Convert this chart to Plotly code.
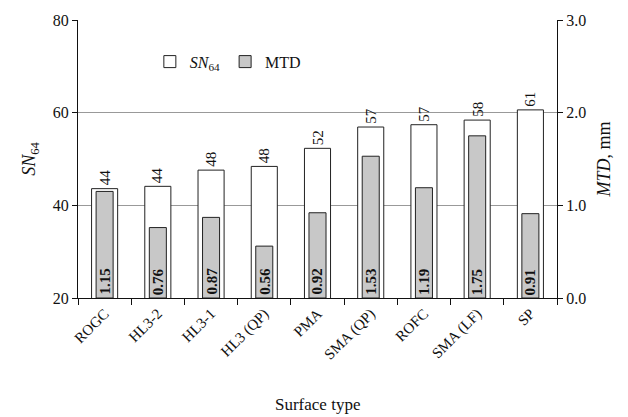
import plotly.graph_objects as go

categories = ["ROGC", "HL3-2", "HL3-1", "HL3 (QP)", "PMA", "SMA (QP)", "ROFC", "SMA (LF)", "SP"]
sn64 = [43.6, 44.1, 47.6, 48.4, 52.3, 56.9, 57.4, 58.4, 60.6]
sn64_labels = ["44", "44", "48", "48", "52", "57", "57", "58", "61"]
mtd = [1.15, 0.76, 0.87, 0.56, 0.92, 1.53, 1.19, 1.75, 0.91]
mtd_labels = ["1.15", "0.76", "0.87", "0.56", "0.92", "1.53", "1.19", "1.75", "0.91"]

FONT = "Liberation Serif"

fig = go.Figure()
fig.add_trace(go.Bar(
    x=categories, y=sn64, name="<i>SN</i><sub>64</sub>",
    width=0.49, marker=dict(color="white", line=dict(color="#222", width=1)),
    yaxis="y",
))
fig.add_trace(go.Bar(
    x=categories, y=mtd, name="MTD",
    width=0.32, marker=dict(color="#c8c8c8", line=dict(color="#222", width=1)),
    yaxis="y2",
))

for c, v, t in zip(categories, sn64, sn64_labels):
    fig.add_annotation(x=c, y=v, xref="x", yref="y", text=t, textangle=-90,
                       showarrow=False, yanchor="bottom", yshift=1,
                       font=dict(family=FONT, size=15, color="#111"))
for c, t in zip(categories, mtd_labels):
    fig.add_annotation(x=c, y=0, xref="x", yref="y2", text="<b>%s</b>" % t, textangle=-90,
                       showarrow=False, yanchor="bottom", yshift=1,
                       font=dict(family=FONT, size=15, color="#111"))

# x-axis title as a paper-anchored annotation
fig.add_annotation(x=0.5, y=-0.382, xref="paper", yref="paper", text="Surface type",
                   showarrow=False, xanchor="center", yanchor="middle",
                   font=dict(family=FONT, size=17, color="#111"))

fig.update_layout(
    width=628, height=417,
    margin=dict(l=78, r=71, t=18, b=119),
    paper_bgcolor="white", plot_bgcolor="white",
    barmode="overlay",
    font=dict(family=FONT, size=16, color="#111"),
    showlegend=True,
    legend=dict(orientation="h", x=0.15, y=0.85, xanchor="left", yanchor="middle",
                bgcolor="rgba(0,0,0,0)", font=dict(family=FONT, size=16),
                itemwidth=30, tracegroupgap=0),
    xaxis=dict(
        tickangle=-45, ticks="outside", tickson="boundaries", ticklen=6,
        tickcolor="#111", showline=True, linecolor="#111", linewidth=1,
        tickfont=dict(family=FONT, size=15), showgrid=False,
    ),
    yaxis=dict(
        title=dict(text="<i>SN</i><sub>64</sub>", font=dict(family=FONT, size=18), standoff=12),
        range=[20, 80], dtick=20, ticks="outside", ticklen=5, tickcolor="#111",
        showline=True, linecolor="#111", linewidth=1,
        showgrid=True, gridcolor="#999", gridwidth=1, zeroline=False,
        tickfont=dict(family=FONT, size=16),
    ),
    yaxis2=dict(
        title=dict(text="<i>MTD</i>, mm", font=dict(family=FONT, size=18), standoff=12),
        range=[0, 3], dtick=1, tickformat=".1f", overlaying="y", side="right",
        ticks="outside", ticklen=5, tickcolor="#111",
        showline=True, linecolor="#111", linewidth=1,
        showgrid=False, zeroline=False,
        tickfont=dict(family=FONT, size=16),
    ),
)

# Flatten each rotated text's transform chain into one rotate(a, cx, cy) on the text node;
# re-applied on afterplot and for a short while, in case plotly repositions labels later.
post_js = """
var gd = document.getElementById('{plot_id}');
function mul(A,B){ return [A[0]*B[0]+A[2]*B[1], A[1]*B[0]+A[3]*B[1], A[0]*B[2]+A[2]*B[3], A[1]*B[2]+A[3]*B[3], A[0]*B[4]+A[2]*B[5]+A[4], A[1]*B[4]+A[3]*B[5]+A[5]]; }
function parseT(str){
  var M=[1,0,0,1,0,0];
  if(!str) return M;
  var re=/([a-zA-Z]+)\\s*\\(([^)]*)\\)/g, mm;
  while((mm=re.exec(str))){
    var f=mm[1], parts=mm[2].trim().split(/[\\s,]+/), a=[];
    for(var i=0;i<parts.length;i++){ if(parts[i]!=='') a.push(parseFloat(parts[i])); }
    var T=null;
    if(f==='translate') T=[1,0,0,1,a[0]||0,a[1]||0];
    else if(f==='scale'){ var sx=a[0], sy=a.length>1?a[1]:a[0]; T=[sx,0,0,sy,0,0]; }
    else if(f==='rotate'){ var r=(a[0]||0)*Math.PI/180, c=Math.cos(r), s=Math.sin(r), cx=a[1]||0, cy=a[2]||0;
      T=mul(mul([1,0,0,1,cx,cy],[c,s,-s,c,0,0]),[1,0,0,1,-cx,-cy]); }
    else if(f==='matrix') T=a.slice(0,6);
    if(T) M=mul(M,T);
  }
  return M;
}
function fixRot(){
  try {
    var texts = Array.prototype.slice.call(gd.getElementsByTagName('text'));
    texts.forEach(function(t){
      var cls = t.getAttribute('class') || '';
      var mine = t.getAttribute('data-rf') === '1';
      if (!mine && (cls.indexOf('ytitle') >= 0 || cls.indexOf('y2title') >= 0)) return;
      var chain = [], el = t, svg = null;
      while(el && el.nodeType === 1){
        if(el.tagName && el.tagName.toLowerCase() === 'svg'){ svg = el; break; }
        chain.unshift(el); el = el.parentNode;
      }
      if(!svg) return;
      var M=[1,0,0,1,0,0];
      for(var i=0;i<chain.length;i++){ M = mul(M, parseT(chain[i].getAttribute('transform'))); }
      var ang = Math.atan2(M[1], M[0]) * 180 / Math.PI;
      if(Math.abs(ang) < 0.01) return;
      var x = parseFloat(t.getAttribute('x') || 0), y = parseFloat(t.getAttribute('y') || 0);
      var px = M[0]*x + M[2]*y + M[4], py = M[1]*x + M[3]*y + M[5];
      var g = null, kids = svg.childNodes;
      for(var k=0;k<kids.length;k++){ if(kids[k].getAttribute && kids[k].getAttribute('class')==='rot-fix') g = kids[k]; }
      if(!g){
        g = document.createElementNS('http://www.w3.org/2000/svg', 'g');
        g.setAttribute('class', 'rot-fix');
        svg.appendChild(g);
      }
      t.setAttribute('x', px.toFixed(2));
      t.setAttribute('y', py.toFixed(2));
      t.setAttribute('transform', 'rotate(' + ang.toFixed(3) + ',' + px.toFixed(2) + ',' + py.toFixed(2) + ')');
      t.setAttribute('class', 'ytitle');
      t.setAttribute('data-rf', '1');
      if (t.parentNode !== g) g.appendChild(t);
    });
  } catch(e) {}
}
fixRot();
if (gd.on) gd.on('plotly_afterplot', fixRot);
var nFix = 0;
var iv = setInterval(function(){ fixRot(); nFix++; if (nFix > 40) clearInterval(iv); }, 50);
"""

fig.write_html("out.html", post_script=post_js)
